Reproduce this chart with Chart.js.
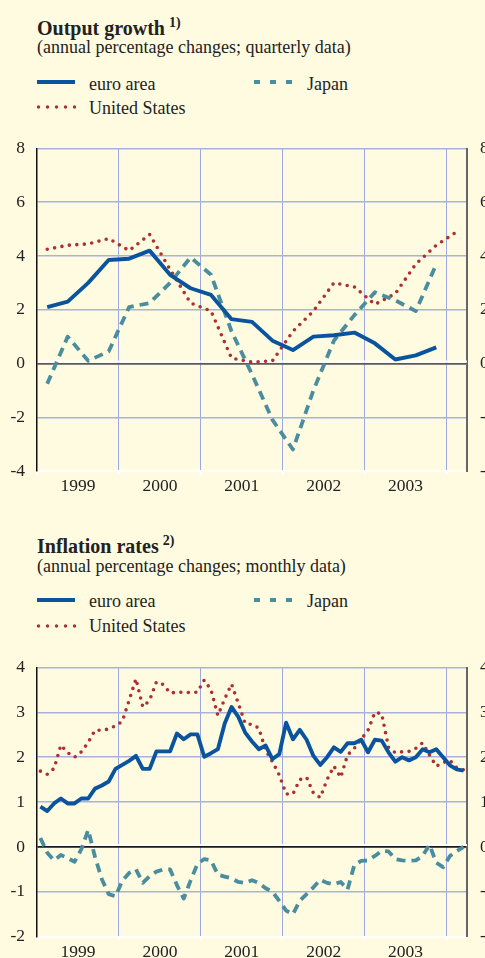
<!DOCTYPE html>
<html>
<head>
<meta charset="utf-8">
<script src="https://cdn.jsdelivr.net/npm/chart.js@4.4.1/dist/chart.umd.min.js"></script>
<style>
  html, body { margin: 0; padding: 0; overflow: hidden; }
  body {
    width: 485px; height: 958px; position: relative;
    background: #fefbe0; color: #222;
    font-family: "Liberation Serif", "Times New Roman", serif;
  }
  .title { position: absolute; left: 37px; font-size: 20px; line-height: 20px; font-weight: bold; white-space: nowrap; }
  .title sup { font-size: 14px; position: relative; top: -8px; vertical-align: baseline; margin-left: 4px; }
  .sub { position: absolute; left: 37px; font-size: 18px; line-height: 18px; white-space: nowrap; }
  .leg { position: absolute; font-size: 18px; line-height: 18px; white-space: nowrap; }
  .key { position: absolute; overflow: visible; }
  canvas { position: absolute; left: 0; }
</style>
</head>
<body>

<!-- Output growth -->
<div class="title" style="top:18px">Output growth<sup>1)</sup></div>
<div class="sub" style="top:38px">(annual percentage changes; quarterly data)</div>
<svg class="key" style="left:37px;top:78px" width="40" height="8"><line x1="0" y1="4" x2="38" y2="4" stroke="#0a549e" stroke-width="4"/></svg>
<div class="leg" style="left:89px;top:75px">euro area</div>
<svg class="key" style="left:254px;top:78px" width="40" height="8"><line x1="0" y1="4" x2="39" y2="4" stroke="#4a8d9e" stroke-width="4" stroke-dasharray="6 10"/></svg>
<div class="leg" style="left:307px;top:75px">Japan</div>
<svg class="key" style="left:37px;top:103px" width="40" height="8"><line x1="1.5" y1="4" x2="38" y2="4" stroke="#ad2f2f" stroke-width="3.4" stroke-linecap="round" stroke-dasharray="0 9"/></svg>
<div class="leg" style="left:89px;top:99px">United States</div>
<canvas id="gdpChart" width="510" height="385" style="top:125px"></canvas>

<!-- Inflation rates -->
<div class="title" style="top:536px">Inflation rates<sup>2)</sup></div>
<div class="sub" style="top:557px">(annual percentage changes; monthly data)</div>
<svg class="key" style="left:37px;top:596px" width="40" height="8"><line x1="0" y1="4" x2="38" y2="4" stroke="#0a549e" stroke-width="4"/></svg>
<div class="leg" style="left:89px;top:592px">euro area</div>
<svg class="key" style="left:254px;top:596px" width="40" height="8"><line x1="0" y1="4" x2="39" y2="4" stroke="#4a8d9e" stroke-width="4" stroke-dasharray="6 10"/></svg>
<div class="leg" style="left:307px;top:592px">Japan</div>
<svg class="key" style="left:37px;top:622px" width="40" height="8"><line x1="1.5" y1="4" x2="38" y2="4" stroke="#ad2f2f" stroke-width="3.4" stroke-linecap="round" stroke-dasharray="0 9"/></svg>
<div class="leg" style="left:89px;top:617px">United States</div>
<canvas id="cpiChart" width="510" height="340" style="top:644px"></canvas>

<script>
// --- DATA ---
const yearTicks = [1999, 2000, 2001, 2002, 2003, 2004];

const quarters = [
    '1999Q1', '1999Q2', '1999Q3', '1999Q4', '2000Q1', '2000Q2', '2000Q3', '2000Q4',
    '2001Q1', '2001Q2', '2001Q3', '2001Q4', '2002Q1', '2002Q2', '2002Q3', '2002Q4',
    '2003Q1', '2003Q2', '2003Q3', '2003Q4', '2004Q1'
];
const gdpEuro = [2.1, 2.3, 3.0, 3.85, 3.9, 4.2, 3.3, 2.8, 2.55, 1.65, 1.55, 0.85, 0.5, 1.0, 1.05, 1.15, 0.75, 0.15, 0.3, 0.6];
const gdpJapan = [-0.75, 1.0, 0.1, 0.45, 2.1, 2.25, 3.0, 3.95, 3.3, 1.2, -0.4, -2.1, -3.2, -1.0, 0.85, 1.8, 2.65, 2.35, 1.95, 3.7];
const gdpUS = [4.25, 4.4, 4.45, 4.65, 4.2, 4.8, 3.5, 2.25, 1.95, 0.2, 0.05, 0.1, 1.2, 1.95, 3.0, 2.85, 2.2, 2.6, 3.7, 4.4, 4.9];

// Jan 1999 - Mar 2004
const months = [];
for (let y = 1999; y <= 2004; y++) {
    for (let m = 1; m <= 12; m++) {
        if (months.length < 63) months.push(`${y}-${String(m).padStart(2, '0')}`);
    }
}
const cpiEuro = [
    0.9, 0.8, 0.97, 1.08, 0.97, 0.97, 1.08, 1.08, 1.3, 1.37, 1.46, 1.74,
    1.83, 1.92, 2.03, 1.74, 1.74, 2.13, 2.13, 2.13, 2.53, 2.4, 2.51, 2.51,
    2.01, 2.09, 2.18, 2.75, 3.12, 2.9, 2.55, 2.35, 2.18, 2.26, 1.96, 2.07,
    2.77, 2.4, 2.61, 2.39, 2.03, 1.83, 2.0, 2.22, 2.12, 2.31, 2.31, 2.39,
    2.11, 2.39, 2.37, 2.11, 1.9, 2.0, 1.93, 2.0, 2.18, 2.11, 2.18, 2.0,
    1.82, 1.73, 1.7
];
const cpiJapan = [
    0.2, -0.13, -0.3, -0.18, -0.25, -0.33, -0.05, 0.38, -0.22, -0.72, -1.05, -1.1,
    -0.75, -0.58, -0.5, -0.8, -0.65, -0.55, -0.5, -0.5, -0.85, -1.15, -0.75, -0.38,
    -0.27, -0.3, -0.62, -0.66, -0.7, -0.78, -0.8, -0.74, -0.8, -0.92, -1.0, -1.2,
    -1.42, -1.5, -1.2, -1.05, -0.9, -0.73, -0.8, -0.83, -0.78, -0.95, -0.4, -0.31,
    -0.3, -0.2, -0.09, -0.1, -0.27, -0.3, -0.31, -0.3, -0.2, 0.05, -0.35, -0.45,
    -0.2, -0.09, 0.0
];
const cpiUS = [
    1.69, 1.62, 1.75, 2.27, 2.1, 2.0, 2.12, 2.33, 2.6, 2.6, 2.63, 2.7,
    2.8, 3.27, 3.75, 3.12, 3.27, 3.68, 3.62, 3.43, 3.45, 3.45, 3.44, 3.45,
    3.72, 3.5, 2.93, 3.3, 3.63, 3.2, 2.75, 2.73, 2.65, 2.15, 1.9, 1.6,
    1.18, 1.18, 1.5, 1.55, 1.2, 1.1, 1.5, 1.8, 1.55, 2.05, 2.2, 2.4,
    2.6, 3.0, 2.97, 2.22, 2.1, 2.12, 2.13, 2.2, 2.32, 2.05, 1.8, 1.88,
    1.93, 1.76, 1.72
];

// --- HELPERS ---
const FONT = '"Liberation Serif", "Times New Roman", serif';
const COLORS = { euro: '#0a549e', japan: '#4a8d9e', us: '#ad2f2f' };

function quarterToX(q) { const [y, n] = q.split('Q'); return +y + (+n - 0.5) / 4; }
function monthToX(m) { const [y, n] = m.split('-'); return +y + (+n - 0.5) / 12; }
function toPoints(labels, values, conv) {
    return values.map((v, i) => ({ x: conv(labels[i]), y: v }));
}

function buildDatasets(labels, conv, euro, japan, us) {
    return [
        { label: 'euro area', data: toPoints(labels, euro, conv), borderColor: COLORS.euro, borderWidth: 3.9, order: 0 },
        { label: 'Japan', data: toPoints(labels, japan, conv), borderColor: COLORS.japan, borderWidth: 3.8, borderDash: [9, 6], order: 1 },
        { label: 'United States', data: toPoints(labels, us, conv), borderColor: COLORS.us, borderWidth: 3.6, borderDash: [0, 7.5], borderCapStyle: 'round', order: 2 }
    ];
}

// white highlight just above the zero line
const zeroHighlight = {
    id: 'zeroHighlight',
    beforeDatasetsDraw(chart) {
        const { ctx, chartArea: a, scales: { y } } = chart;
        const y0 = y.getPixelForValue(0);
        ctx.save();
        ctx.strokeStyle = '#ffffff';
        ctx.lineWidth = 2;
        ctx.beginPath();
        ctx.moveTo(a.left + 1, y0 - 2);
        ctx.lineTo(a.right, y0 - 2);
        ctx.stroke();
        ctx.restore();
    }
};

// --- CHART SETUP ---
function makeChart(id, datasets, yMin, yMax, yStep, xHeight, zeroColor) {
    const tickFont = { family: FONT, size: 17.5 };
    return new Chart(document.getElementById(id), {
        type: 'line',
        data: { datasets },
        options: {
            responsive: false,
            animation: false,
            layout: { padding: { top: 20, left: 0, right: 0, bottom: 0 } },
            plugins: { legend: { display: false }, tooltip: { enabled: false } },
            elements: { line: { tension: 0, borderJoinStyle: 'round' }, point: { radius: 0 } },
            scales: {
                x: {
                    type: 'linear', min: 1999, max: 2004.25,
                    afterBuildTicks: s => { s.ticks = yearTicks.map(v => ({ value: v })); },
                    afterFit: s => { s.height = xHeight; },
                    grid: {
                        color: c => c.tick && c.tick.value === 1999 ? 'rgba(0,0,0,0)' : '#9ea9e3',
                        lineWidth: 1, tickLength: 4, tickColor: '#ffffff', tickWidth: 2
                    },
                    border: { color: '#ffffff', width: 2 },
                    ticks: {
                        autoSkip: false, maxRotation: 0, labelOffset: 41, padding: 1,
                        color: '#222', font: tickFont,
                        callback: v => v < 2004 ? String(v) : ''
                    }
                },
                y: {
                    position: 'left', min: yMin, max: yMax,
                    afterFit: s => { s.width = 37; },
                    grid: {
                        drawTicks: false,
                        color: c => c.tick.value === 0 ? zeroColor : (c.tick.value === yMin ? 'rgba(0,0,0,0)' : '#a9b2dd'),
                        lineWidth: c => c.tick.value === 0 ? 1.8 : 1.5
                    },
                    border: { color: '#111', width: 1.5 },
                    ticks: { stepSize: yStep, padding: 12, color: '#222', font: tickFont }
                },
                y2: {
                    position: 'right', min: yMin, max: yMax,
                    afterFit: s => { s.width = 43; },
                    grid: { drawOnChartArea: false, drawTicks: false },
                    border: { color: '#666', width: 2 },
                    ticks: { stepSize: yStep, padding: 13, color: '#222', font: tickFont }
                }
            }
        },
        plugins: [zeroHighlight]
    });
}

document.addEventListener('DOMContentLoaded', () => {
    makeChart('gdpChart', buildDatasets(quarters, quarterToX, gdpEuro, gdpJapan, gdpUS), -4, 8, 2, 39, '#5a5a5a');
    makeChart('cpiChart', buildDatasets(months, monthToX, cpiEuro, cpiJapan, cpiUS), -2, 4, 1, 47.3, '#1a1a1a');
});
</script>
</body>
</html>
